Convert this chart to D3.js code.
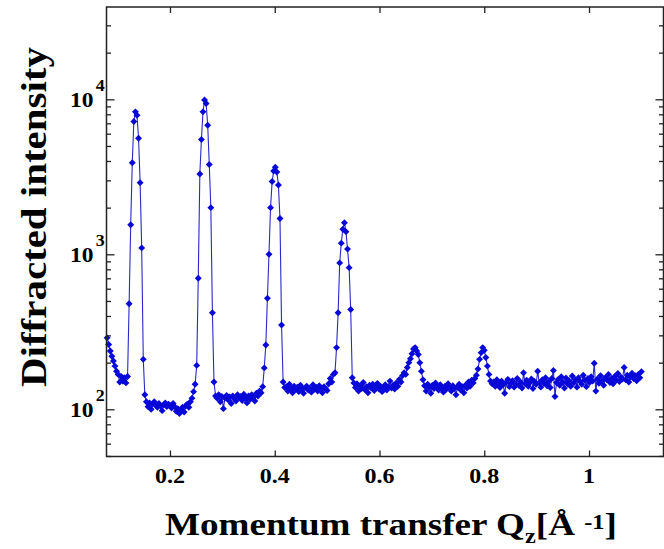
<!DOCTYPE html>
<html>
<head>
<meta charset="utf-8">
<script src="https://cdn.jsdelivr.net/npm/d3@7"></script>
<style>
body { margin: 0; background: #fff; }
text { font-family: "Liberation Serif", "Times New Roman", serif; font-weight: bold; fill: #000; }
</style>
</head>
<body>
<script>
/* measured points: momentum transfer Qz (1/A) and diffracted intensity */
var qz = [
  0.080,0.083,0.086,0.089,0.092,0.095,0.098,0.101,0.104,0.107,0.110,0.113,0.116,0.119,
  0.122,0.125,0.128,0.131,0.134,0.137,0.140,0.143,0.146,0.149,0.152,
  0.155,0.158,0.161,0.164,0.167,0.170,0.173,0.176,0.179,0.182,0.185,0.188,0.191,0.194,0.197,0.200,0.203,0.206,0.209,0.212,0.215,0.218,0.221,0.224,0.227,0.230,0.233,0.236,0.239,0.242,0.245,0.248,0.251,
  0.254,0.257,0.260,0.263,0.266,0.269,0.272,0.275,0.278,0.281,0.284,0.287,
  0.290,0.293,0.296,0.299,0.302,0.305,0.308,0.311,0.314,0.317,0.320,0.323,0.326,0.329,0.332,0.335,0.338,0.341,0.344,0.347,0.350,0.353,0.356,0.359,0.362,0.365,0.368,0.371,0.374,0.377,
  0.380,0.383,0.386,0.389,0.392,0.395,0.398,0.401,0.404,0.407,0.410,0.413,0.416,0.419,
  0.422,0.425,0.428,0.431,0.434,0.437,0.440,0.443,0.446,0.449,0.452,0.455,0.458,0.461,0.464,0.467,0.470,0.473,0.476,0.479,0.482,0.485,0.488,0.491,0.494,0.497,0.500,0.503,0.506,0.509,0.512,
  0.515,0.518,0.521,0.524,0.527,0.530,0.533,0.536,0.539,0.542,0.545,0.548,0.551,
  0.554,0.557,0.560,0.563,0.566,0.569,0.572,0.575,0.578,0.581,0.584,0.587,0.590,0.593,0.596,0.599,0.602,0.605,0.608,0.611,0.614,0.617,0.620,0.623,0.626,0.629,0.632,0.635,0.638,0.641,
  0.644,0.647,0.650,0.653,0.656,0.659,0.662,0.665,0.668,0.671,0.674,0.677,0.680,0.683,0.686,
  0.689,0.692,0.695,0.698,0.701,0.704,0.707,0.710,0.713,0.716,0.719,0.722,0.725,0.728,0.731,0.734,0.737,0.740,0.743,0.746,0.749,0.752,0.755,0.758,0.761,0.764,0.767,0.770,0.773,0.776,0.779,
  0.782,0.785,0.788,0.791,0.794,0.797,0.800,0.803,0.806,0.809,0.812,0.815,
  0.818,0.821,0.824,0.827,0.830,0.833,0.836,0.839,0.842,0.845,
  0.848,0.851,0.854,0.857,0.860,0.863,0.866,0.869,0.872,0.875,
  0.878,0.881,0.884,0.887,0.890,0.893,0.896,0.899,0.902,0.905,
  0.908,0.911,0.914,0.917,0.920,0.923,0.926,0.929,0.932,0.935,
  0.938,0.941,0.944,0.947,0.950,0.953,0.956,0.959,0.962,0.965,
  0.968,0.971,0.974,0.977,0.980,0.983,0.986,0.989,0.992,0.995,
  0.998,1.001,1.004,1.007,1.010,1.013,1.016,1.019,1.022,1.025,
  1.028,1.031,1.034,1.037,1.040,1.043,1.046,1.049,1.052,1.055,
  1.058,1.061,1.064,1.067,1.070,1.073,1.076,1.079,1.082,1.085,
  1.088,1.091,1.094,1.097,1.100
]
var intensity = [
  289,262,238,220,205,190,176,168,150,163,152,160,148,163,
  480,1550,3900,7200,8300,7900,5600,2900,1100,210,124,
  112,104,110,100,108,112,106,103,109,105,98,107,110,104,108,106,102,109,104,97,101,94,99,103,96,105,108,103,112,118,130,145,192,
  700,3300,5500,8300,9900,9400,6800,3800,2000,420,150,122,
  118,124,112,121,101,118,123,115,120,109,122,117,113,124,119,121,114,125,118,110,122,116,124,120,113,127,122,131,128,140,
  185,260,520,1000,2000,2950,3450,3640,3400,2800,1700,350,150,138,
  140,131,145,136,128,141,134,139,130,143,136,127,138,141,133,137,129,144,135,139,131,142,137,128,140,135,132,146,158,150,168,
  172,250,420,880,1180,1450,1600,1400,1080,820,440,160,148,
  138,146,131,142,136,149,134,140,128,143,137,145,132,139,147,135,141,130,138,144,133,140,152,137,143,135,148,141,156,150,
  165,172,168,186,200,212,228,245,250,238,226,200,176,155,142,
  131,145,138,127,143,136,148,139,133,144,137,129,141,135,146,138,131,142,136,124,139,145,133,140,128,143,137,150,141,154,148,
  158,166,182,210,232,250,240,216,190,168,152,146,
  150,141,155,146,138,152,144,127,149,156,
  140,147,153,139,145,158,143,150,137,172,
  146,154,141,149,157,136,151,145,176,148,
  139,155,147,160,142,151,138,158,178,121,
  149,156,143,162,150,137,159,146,153,141,
  164,148,155,139,160,151,145,166,154,140,
  158,149,162,152,198,131,157,147,165,152,
  143,160,155,168,149,158,146,163,154,170,
  151,161,157,186,155,166,150,162,171,158,
  165,153,168,160,175
]

var xTickValues = [0.2, 0.4, 0.6, 0.8, 1]
var yMajorValues = [100, 1000, 10000]
var yMajorExponents = ["2", "3", "4"]
var yMinorFactors = [2, 3, 4, 5, 6, 7, 8, 9]

var xTitle = "Momentum transfer Q"
var yTitle = "Diffracted intensity"

var width = 664, height = 549
var plotLeft = 106.5, plotRight = 663.5, plotTop = 7, plotBottom = 456.5

var data = qz.map(function(q, i){ return {q: q, v: intensity[i]} })

var svg = d3.select("body").append("svg")
    .attr("width", width)
    .attr("height", height)

var x = d3.scaleLinear().domain([0.0788, 1.1422]).range([plotLeft, plotRight])
var y = d3.scaleLog().domain([49.6, 39400]).range([plotBottom, plotTop])

// minor log ticks inside the domain
var yMinorValues = []
;[10, 100, 1000, 10000].forEach(function(dec){
  yMinorFactors.forEach(function(f){
    var v = dec * f
    if (v > y.domain()[0] && v < y.domain()[1]) yMinorValues.push(v)
  })
})

/* data line + markers */
var line = d3.line()
    .x(function(d){ return x(d.q) })
    .y(function(d){ return y(d.v) })

svg.append("path")
    .datum(data)
    .attr("d", line)
    .attr("fill", "none")
    .attr("stroke", "#2a2ac6")
    .attr("stroke-width", 1.1)

var marker = d3.symbol().type(d3.symbolSquare).size(24)

svg.append("g").selectAll("path")
    .data(data)
    .enter()
    .append("path")
    .attr("d", marker)
    .attr("transform", function(d){ return "translate(" + x(d.q) + "," + y(d.v) + ") rotate(45)" })
    .attr("fill", "#0808d8")

/* frame and ticks */
function styleAxis(g){
  g.select(".domain").remove()
  g.selectAll("line").attr("stroke", "#222").attr("stroke-width", 1.3)
  g.selectAll("text").remove()
}

svg.append("g").attr("transform", "translate(0," + plotBottom + ")")
    .call(d3.axisBottom(x).tickValues(xTickValues).tickSize(-6)).call(styleAxis)
svg.append("g").attr("transform", "translate(0," + plotTop + ")")
    .call(d3.axisTop(x).tickValues(xTickValues).tickSize(-6)).call(styleAxis)
svg.append("g").attr("transform", "translate(" + plotLeft + ",0)")
    .call(d3.axisLeft(y).tickValues(yMajorValues).tickSize(-8)).call(styleAxis)
svg.append("g").attr("transform", "translate(" + plotLeft + ",0)")
    .call(d3.axisLeft(y).tickValues(yMinorValues).tickSize(-4.5)).call(styleAxis)
svg.append("g").attr("transform", "translate(" + plotRight + ",0)")
    .call(d3.axisRight(y).tickValues(yMajorValues).tickSize(-8)).call(styleAxis)
svg.append("g").attr("transform", "translate(" + plotRight + ",0)")
    .call(d3.axisRight(y).tickValues(yMinorValues).tickSize(-4.5)).call(styleAxis)

svg.append("rect")
    .attr("x", plotLeft).attr("y", plotTop)
    .attr("width", plotRight - plotLeft).attr("height", plotBottom - plotTop)
    .attr("fill", "none")
    .attr("stroke", "#222")
    .attr("stroke-width", 1.5)

/* tick labels (the source font is drawn wide, so stretch horizontally) */
svg.append("g").selectAll("text")
    .data(xTickValues)
    .enter()
    .append("text")
    .attr("transform", function(d){ return "translate(" + x(d) + ",483) scale(1.2,1)" })
    .attr("text-anchor", "middle")
    .style("font-size", "20px")
    .text(function(d){ return d3.format("~g")(d) })

var yLab = svg.append("g").selectAll("text")
    .data(yMajorValues)
    .enter()
    .append("text")
    .attr("transform", function(d){ return "translate(70," + (y(d) + 7.5) + ") scale(1.12,1)" })
    .style("font-size", "21px")

yLab.append("tspan").text("10")
yLab.append("tspan")
    .attr("dx", 2)
    .attr("dy", -15.5)
    .style("font-size", "16px")
    .text(function(d, i){ return yMajorExponents[i] })

/* axis titles */
var xt = svg.append("text")
    .attr("transform", "translate(165,535) scale(1.16,1)")
    .style("font-size", "32px")

xt.append("tspan").text(xTitle)
xt.append("tspan").attr("dy", 8).style("font-size", "21px").text("z")
xt.append("tspan").attr("dy", -8).text("[\u00c5 ")
xt.append("tspan").attr("dy", -6).style("font-size", "21px").text("-1")
xt.append("tspan").attr("dy", 6).text("]")

svg.append("text")
    .attr("transform", "translate(46,217) rotate(-90) scale(1.17,1)")
    .attr("text-anchor", "middle")
    .style("font-size", "35px")
    .text(yTitle)
</script>
</body>
</html>
